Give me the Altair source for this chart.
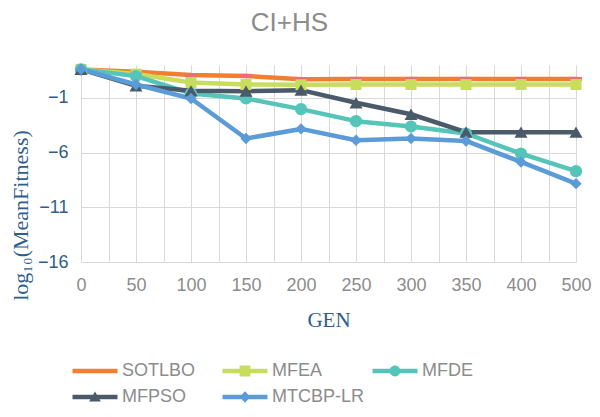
import json
import altair as alt
import pandas as pd

gens = ["0", "50", "100", "150", "200", "250", "300", "350", "400", "500"]
series_names = ["SOTLBO", "MFEA", "MFDE", "MFPSO", "MTCBP-LR"]
sotlbo = [1.6, 1.38, 1.08, 1.0, 0.7, 0.72, 0.72, 0.72, 0.72, 0.72]
mfea = [1.6, 1.17, 0.4, 0.22, 0.2, 0.22, 0.22, 0.22, 0.22, 0.22]
mfde = [1.6, 0.99, -0.6, -1.06, -2.03, -3.13, -3.62, -4.26, -6.1, -7.7]
mfpso = [1.6, 0.1, -0.36, -0.39, -0.3, -1.45, -2.5, -4.14, -4.14, -4.14]
mtcbp = [1.6, 0.22, -1.06, -4.72, -3.84, -4.87, -4.72, -4.94, -6.86, -8.84]

colors = ["#F07F2F", "#C8DC5E", "#55C5BA", "#4B5A69", "#5A9BD8"]
dash_color = "#F06B78"

values = [sotlbo, mfea, mfde, mfpso, mtcbp]
rows = []
for name, vals in zip(series_names, values):
    for i, (g, v) in enumerate(zip(gens, vals)):
        rows.append({"series": name, "idx": i, "gen": g, "value": v})
df = pd.DataFrame(rows)

line_part = "M-2.5,-0.25H2.5V0.25H-2.5Z"
legend_paths = [
    line_part,
    line_part + "M-0.6,-0.6H0.6V0.6H-0.6Z",
    line_part + "M-0.6,0A0.6,0.6 0 1,1 0.6,0A0.6,0.6 0 1,1 -0.6,0Z",
    line_part + "M0,-0.6L0.65,0.5H-0.65Z",
    line_part + "M0,-0.65L0.6,0L0,0.65L-0.6,0Z",
]

text_blue = "#2E5E8E"
grid_col = "#D9D9D9"
label_expr = "datum.value % 1 == 0 ? " + json.dumps(gens) + "[datum.value] : ''"

color_scale = alt.Scale(domain=series_names, range=colors)

x_enc = alt.X(
    "idx:Q",
    scale=alt.Scale(domain=[0, 9], nice=False, zero=False),
    axis=alt.Axis(
        values=[i * 0.5 for i in range(19)],
        labelExpr=label_expr,
        labelFlush=False,
        labelOverlap=False,
        title="GEN",
        grid=True,
        ticks=False,
        domain=False,
        labelFont="Liberation Sans",
        labelFontSize=18,
        labelColor="#8C8C8C",
        labelPadding=14,
        titleFont="Liberation Serif",
        titleFontSize=21,
        titleFontWeight="normal",
        titleColor=text_blue,
        titleBaseline="alphabetic",
        titleY=64,
    ),
)
y_enc = alt.Y(
    "value:Q",
    scale=alt.Scale(domain=[-16, 2], nice=False, zero=False),
    axis=alt.Axis(
        values=[-16, -11, -6, -1],
        title="log₁₀(MeanFitness)",
        grid=True,
        ticks=False,
        domain=False,
        labelFlush=False,
        labelFont="Liberation Sans",
        labelFontSize=18,
        labelColor=text_blue,
        labelPadding=13,
        titleFont="Liberation Serif",
        titleFontSize=22,
        titleFontWeight="normal",
        titleColor=text_blue,
        titleX=-49,
        titleY=150,
    ),
)

leg = alt.Legend(
    title=None,
    orient="none",
    legendX=5,
    legendY=297,
    direction="horizontal",
    columns=3,
    gridAlign="all",
    symbolSize=324,
    symbolStrokeWidth=0,
    symbolOpacity=1,
    labelFontSize=18,
    labelFont="Liberation Sans",
    labelColor="#8C8C8C",
    labelOffset=18,
    columnPadding=7,
    rowPadding=8,
    padding=0,
    labelLimit=200,
)

base = alt.Chart(df).encode(x=x_enc, y=y_enc)

lines = base.mark_line(
    strokeWidth=4.5, strokeCap="round", strokeJoin="round"
).encode(color=alt.Color("series:N", scale=color_scale, legend=None))

marker_specs = [
    ("SOTLBO", "M-1,-0.35H1V0.35H-1Z", 144, dash_color),
    ("MFEA", "square", 121, None),
    ("MFDE", "circle", 150, None),
    ("MFPSO", "triangle-up", 170, None),
    ("MTCBP-LR", "diamond", 130, None),
]
marker_layers = []
for name, shape, size, col in marker_specs:
    layer = base.transform_filter(alt.datum.series == name).mark_point(
        filled=True, shape=shape, size=size, opacity=1
    )
    if col:
        layer = layer.encode(color=alt.value(col))
    else:
        layer = layer.encode(
            color=alt.Color("series:N", scale=color_scale, legend=None)
        )
    marker_layers.append(layer)

legend_layer = base.mark_point(filled=True, opacity=0).encode(
    color=alt.Color("series:N", scale=color_scale, legend=leg),
    shape=alt.Shape(
        "series:N",
        scale=alt.Scale(domain=series_names, range=legend_paths),
        legend=leg,
    ),
)

chart = (
    alt.layer(lines, *marker_layers, legend_layer)
    .resolve_legend(color="independent", shape="independent")
    .properties(
        width=495,
        height=197,
        title=alt.TitleParams(
            "CI+HS",
            fontSize=26,
            font="Liberation Sans",
            fontWeight="normal",
            color="#8C8C8C",
            anchor="middle",
            dx=-39,
            offset=27,
        ),
        autosize=alt.AutoSizeParams(type="none"),
        padding={"left": 73, "top": 57, "right": 16, "bottom": 147},
    )
    .configure_view(stroke=None)
    .configure_axis(gridColor=grid_col, gridWidth=1)
)

chart.save("out.html", embed_options={"renderer": "svg", "actions": False})
